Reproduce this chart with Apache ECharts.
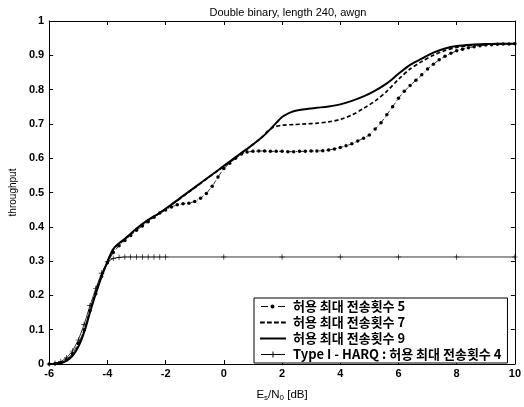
<!DOCTYPE html>
<html>
<head>
<meta charset="utf-8">
<script src="https://cdn.jsdelivr.net/npm/echarts@6/dist/echarts.min.js"></script>
<style>
html,body{margin:0;padding:0;background:#fff;}
#c{width:524px;height:407px;}
</style>
</head>
<body>
<div id="c"></div>
<script>
// ---- data (x in dB, y throughput) ----
const titleText = 'Double binary, length 240, awgn';
const seriesNames = ['허용 최대 전송횟수 5', '허용 최대 전송횟수 7', '허용 최대 전송횟수 9', 'Type I - HARQ : 허용 최대 전송횟수 4'];
const xTicks = [-6, -4, -2, 0, 2, 4, 6, 8, 10];
const yTicks = [0, 0.1, 0.2, 0.3, 0.4, 0.5, 0.6, 0.7, 0.8, 0.9, 1];

const x5 = [-6,-5.8,-5.6,-5.4,-5.2,-5,-4.8,-4.6,-4.4,-4.2,-4,-3.8,-3.6,-3.4,-3.2,-3,-2.8,-2.6,-2.4,-2.2,-2,-1.8,-1.6,-1.4,-1.2,-1,-0.8,-0.6,-0.4,-0.2,0,0.2,0.4,0.6,0.8,1,1.2,1.4,1.6,1.8,2,2.2,2.4,2.6,2.8,3,3.2,3.4,3.6,3.8,4,4.2,4.4,4.6,4.8,5,5.2,5.4,5.6,5.8,6,6.2,6.4,6.6,6.8,7,7.2,7.4,7.6,7.8,8,8.2,8.4,8.6,8.8,9,9.2,9.4,9.6,9.8,10];
const y5 = [0,0.001,0.004,0.012,0.03,0.06,0.1,0.155,0.205,0.255,0.295,0.325,0.345,0.36,0.375,0.39,0.402,0.415,0.428,0.44,0.449,0.458,0.464,0.467,0.469,0.474,0.483,0.497,0.518,0.545,0.57,0.585,0.6,0.612,0.618,0.62,0.621,0.621,0.62,0.62,0.62,0.619,0.619,0.62,0.62,0.621,0.621,0.622,0.624,0.627,0.631,0.636,0.642,0.65,0.658,0.668,0.685,0.703,0.727,0.75,0.775,0.795,0.812,0.827,0.843,0.86,0.874,0.887,0.897,0.906,0.913,0.918,0.922,0.925,0.928,0.93,0.931,0.932,0.933,0.933,0.934];

const x7 = [-6,-5.8,-5.6,-5.4,-5.2,-5,-4.8,-4.6,-4.4,-4.2,-4,-3.8,-3.6,-3.4,-3.2,-3,-2.6,-2.2,-1.8,-1.4,-1,-0.6,-0.2,0.2,0.6,1,1.3,1.5,1.7,2,2.4,2.8,3.2,3.6,4,4.4,4.8,5.2,5.6,6,6.4,6.8,7.2,7.6,8,8.5,9,9.5,10];
const y7 = [0,0.001,0.003,0.01,0.025,0.052,0.095,0.155,0.21,0.258,0.298,0.333,0.351,0.364,0.379,0.394,0.419,0.44,0.464,0.489,0.514,0.539,0.564,0.589,0.614,0.64,0.66,0.678,0.69,0.696,0.698,0.7,0.702,0.706,0.713,0.726,0.745,0.767,0.795,0.83,0.86,0.882,0.9,0.914,0.923,0.929,0.932,0.933,0.934];

const x9 = [-6,-5.8,-5.6,-5.4,-5.2,-5,-4.8,-4.6,-4.4,-4.2,-4,-3.8,-3.6,-3.4,-3.2,-3,-2.6,-2.2,-1.8,-1.4,-1,-0.6,-0.2,0.2,0.6,1,1.4,1.8,2,2.2,2.4,2.8,3.2,3.6,4,4.4,4.8,5.2,5.6,6,6.4,6.8,7.2,7.6,8,8.5,9,9.5,10];
const y9 = [0,0.001,0.003,0.01,0.024,0.05,0.092,0.15,0.205,0.255,0.298,0.335,0.352,0.365,0.38,0.395,0.42,0.441,0.465,0.49,0.515,0.54,0.565,0.59,0.615,0.64,0.668,0.703,0.72,0.73,0.737,0.743,0.747,0.751,0.757,0.767,0.78,0.797,0.818,0.846,0.872,0.89,0.908,0.92,0.927,0.931,0.933,0.934,0.934];

const xT = [-6,-5.8,-5.6,-5.4,-5.2,-5,-4.8,-4.6,-4.4,-4.2,-4,-3.8,-3.6,-3.4,-3.2,-3,-2.8,-2.6,-2.4,-2.2,-2,0,2,4,6,8,10];
const yT = [0,0.002,0.007,0.018,0.038,0.07,0.115,0.17,0.22,0.265,0.298,0.308,0.311,0.312,0.312,0.312,0.312,0.312,0.312,0.312,0.312,0.312,0.312,0.312,0.312,0.312,0.312];

const pair = (xs, ys) => xs.map((x, i) => [x, ys[i]]);
const plusPath = 'path://M4.4,0H5.6V4.4H10V5.6H5.6V10H4.4V5.6H0V4.4H4.4Z';
// legend icons (26 x 11 box, corner specks fix the bounding box)
const corners = 'M0,0H0.01V0.01H0Z M25.99,10.99H26V11H25.99Z ';
const icon5 = 'path://' + corners + 'M1,5H8V6H1Z M18,5H25V6H18Z M10.5,5.5a2,2 0 1,0 4,0a2,2 0 1,0 -4,0Z';
const icon7 = 'path://' + corners + 'M0,4.6H4.8V6.4H0Z M7,4.6H11.8V6.4H7Z M14,4.6H18.8V6.4H14Z M21,4.6H25.8V6.4H21Z';
const icon9 = 'path://' + corners + 'M0,4.5H26V6.6H0Z';
const iconT = 'path://' + corners + 'M1,5.1H25V5.9H1Z M12.5,2.5H13.5V8.5H12.5Z';

const chart = echarts.init(document.getElementById('c'), null, {renderer: 'canvas'});
const font = 'Liberation Sans, Arial, sans-serif';
const axisCommon = {
  axisLine: {show: true, onZero: false, lineStyle: {color: '#000', width: 1}},
  axisTick: {show: true, inside: true, length: 4, lineStyle: {color: '#000'}},
  splitLine: {show: false}
};
chart.setOption({
  animation: false,
  backgroundColor: '#fff',
  textStyle: {fontFamily: font},
  title: {
    text: titleText, left: 283, top: 2, textAlign: 'center',
    textStyle: {fontSize: 11, fontWeight: 'normal', color: '#000', fontFamily: font}
  },
  grid: {left: 44, right: 3, top: 21, bottom: 38, containLabel: false},
  legend: {
    orient: 'vertical', left: 254, top: 298,
    itemWidth: 26, itemHeight: 11, itemGap: 3,
    padding: [2, 6, 2, 6],
    borderColor: '#000', borderWidth: 1, backgroundColor: '#fff',
    textStyle: {fontSize: 13, lineHeight: 11, fontWeight: 'bold', color: '#000', fontFamily: 'Noto Sans CJK KR, Liberation Sans, sans-serif', padding: [0, 0, 0, 2]},
    data: [
      {name: seriesNames[0], icon: icon5, itemStyle: {color: '#000', borderWidth: 0}},
      {name: seriesNames[1], icon: icon7, itemStyle: {color: '#000', borderWidth: 0}},
      {name: seriesNames[2], icon: icon9, itemStyle: {color: '#000', borderWidth: 0}},
      {name: seriesNames[3], icon: iconT, itemStyle: {color: '#000', borderWidth: 0}}
    ]
  },
  xAxis: [
    Object.assign({type: 'value', min: xTicks[0], max: xTicks[xTicks.length-1], interval: 2, position: 'bottom',
      axisLabel: {color: '#000', fontSize: 11, fontWeight: 'bold', fontFamily: font, margin: 4},
      name: '{m|E}{s|s}{m|/N}{s|0}{m| [dB]}', nameLocation: 'middle', nameGap: 24,
      nameTextStyle: {rich: {m: {fontSize: 11.5, color: '#000', fontFamily: font}, s: {fontSize: 8, color: '#000', fontFamily: font, verticalAlign: 'bottom', padding: [6, 0, 0, 0]}}}
    }, axisCommon),
    Object.assign({type: 'value', min: xTicks[0], max: xTicks[xTicks.length-1], interval: 2, position: 'top',
      axisLabel: {show: false}}, axisCommon)
  ],
  yAxis: [
    Object.assign({type: 'value', min: 0, max: 1, interval: 0.1, position: 'left',
      axisLabel: {color: '#000', fontSize: 11, fontWeight: 'bold', fontFamily: font, margin: 5,
        formatter: v => (Math.abs(v) < 1e-9 ? '0' : Math.abs(v - 1) < 1e-9 ? '1' : v.toFixed(1))},
      name: 'throughput', nameLocation: 'middle', nameGap: 30, nameRotate: 90,
      nameTextStyle: {fontSize: 10, color: '#000', fontFamily: font}
    }, axisCommon),
    Object.assign({type: 'value', min: 0, max: 1, interval: 0.1, position: 'right',
      axisLabel: {show: false}}, axisCommon)
  ],
  series: [
    {name: seriesNames[0], type: 'line', xAxisIndex: 0, yAxisIndex: 0, data: pair(x5, y5),
      symbol: 'circle', symbolSize: 3.5, showSymbol: true,
      lineStyle: {color: '#000', width: 0.8, type: [5, 2, 1, 2]}, itemStyle: {color: '#000'}, z: 3},
    {name: seriesNames[1], type: 'line', xAxisIndex: 0, yAxisIndex: 0, data: pair(x7, y7),
      symbol: 'none', smooth: 0.3,
      lineStyle: {color: '#000', width: 1.7, type: [4, 2.5]}, itemStyle: {color: '#000'}, z: 4},
    {name: seriesNames[2], type: 'line', xAxisIndex: 0, yAxisIndex: 0, data: pair(x9, y9),
      symbol: 'none', smooth: 0.3,
      lineStyle: {color: '#000', width: 2}, itemStyle: {color: '#000'}, z: 5},
    {name: seriesNames[3], type: 'line', xAxisIndex: 0, yAxisIndex: 0, data: pair(xT, yT),
      symbol: plusPath, symbolSize: 5.5, showSymbol: true,
      lineStyle: {color: '#000', width: 0.8}, itemStyle: {color: '#000'}, z: 2}
  ]
});
</script>
</body>
</html>
